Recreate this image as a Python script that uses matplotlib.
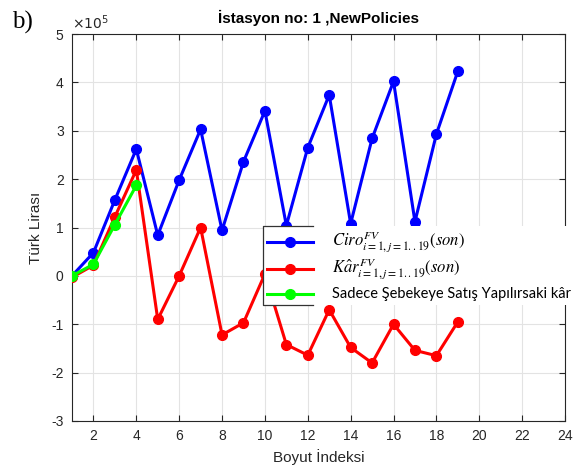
import matplotlib
matplotlib.use("Agg")
import matplotlib.pyplot as plt
from matplotlib.lines import Line2D
from matplotlib.patches import Rectangle

plt.rcParams["font.family"] = ["Liberation Sans", "DejaVu Sans"]
plt.rcParams["axes.unicode_minus"] = False
plt.rcParams["mathtext.fontset"] = "stix"

# Data (values in units of 1e5 TL)
boyut = list(range(1, 20))
ciro = [0.0, 0.48, 1.57, 2.62, 0.84, 1.98, 3.03, 0.94, 2.36, 3.41,
        1.04, 2.65, 3.74, 1.08, 2.84, 4.02, 1.12, 2.93, 4.23]
kar = [-0.03, 0.22, 1.22, 2.19, -0.90, 0.0, 1.0, -1.22, -0.97, 0.04,
       -1.42, -1.64, -0.70, -1.48, -1.80, -1.00, -1.54, -1.65, -0.95]
sebeke_x = [1, 2, 3, 4]
sebeke_kar = [0.0, 0.24, 1.06, 1.87]

xticks = list(range(2, 25, 2))
yticks = list(range(-3, 6))

W, H = 583, 471
fig = plt.figure(figsize=(W / 100, H / 100), dpi=100)
ax = fig.add_axes([72 / W, 1 - 421 / H, (565 - 72) / W, (421 - 34) / H])

lw = 2.2
ms = 7
ax.plot(boyut, ciro, "-o", color=(0, 0, 1), lw=lw, ms=ms, zorder=3)
ax.plot(boyut, kar, "-o", color=(1, 0, 0), lw=lw, ms=ms, zorder=3)
ax.plot(sebeke_x, sebeke_kar, "-o", color=(0, 1, 0), lw=lw, ms=ms, zorder=4)

ax.set_xlim(1, 24)
ax.set_ylim(-3, 5)
ax.set_xticks(xticks)
ax.set_yticks(yticks)
ax.grid(True, color="#e3e3e3", lw=0.8, zorder=0)
ax.set_axisbelow(True)
ax.tick_params(direction="in", top=True, right=True, length=4, width=0.8,
               colors="#262626", labelsize=10, pad=6)
for s in ax.spines.values():
    s.set_color("#262626")
    s.set_linewidth(0.8)

ax.set_xlabel("Boyut İndeksi", fontsize=11, color="#262626")
ax.set_ylabel("Türk Lirası", fontsize=11, color="#262626", labelpad=6)
ax.set_title("İstasyon no: 1 ,NewPolicies", fontsize=11, fontweight="bold",
             color="black", pad=8)
ax.text(0.0, 1.006, r"$\times10^{5}$", transform=ax.transAxes, fontsize=10,
        color="#262626", ha="left", va="bottom", family="DejaVu Sans",
        math_fontfamily="dejavusans")

fig.text(12 / W, 1 - 22 / H, "b)", fontsize=18, family="Liberation Serif",
         ha="left", va="center")

# Legend panel
lx0, lx1, lx2 = 263, 313, 583
ly0, ly1 = 226, 305
fig.patches.append(Rectangle((lx0 / W, 1 - ly1 / H), (lx2 - lx0) / W, (ly1 - ly0) / H,
                             transform=fig.transFigure, facecolor="white",
                             edgecolor="none", zorder=5))
fig.lines.append(Line2D([lx1 / W, lx0 / W, lx0 / W, lx1 / W],
                        [1 - ly0 / H, 1 - ly0 / H, 1 - ly1 / H, 1 - ly1 / H],
                        transform=fig.transFigure, color="#333333", lw=0.9, zorder=6))

entries = [
    ((0, 0, 1), r"$Ciro_{i=1,j=1{.}{.}19}^{FV}(son)$", 242),
    ((1, 0, 0), r"$K\hat{a}r_{i=1,j=1{.}{.}19}^{FV}(son)$", 269),
    ((0, 1, 0), "Sadece Şebekeye Satış Yapılırsaki kâr", 294),
]
for color, label, yy in entries:
    fig.lines.append(Line2D([267 / W, 313 / W], [1 - yy / H, 1 - yy / H],
                            transform=fig.transFigure, color=color, lw=lw, zorder=7))
    fig.lines.append(Line2D([290 / W], [1 - yy / H], transform=fig.transFigure,
                            color=color, marker="o", ms=ms, zorder=7))
    if label.startswith("$"):
        fig.text(332 / W, 1 - yy / H, label, fontsize=12, ha="left", va="center",
                 zorder=8)
    else:
        fig.text(332 / W, 1 - yy / H, label, fontsize=10.5, family="Lato",
                 ha="left", va="center", zorder=8)

fig.savefig("out.png", dpi=100)
